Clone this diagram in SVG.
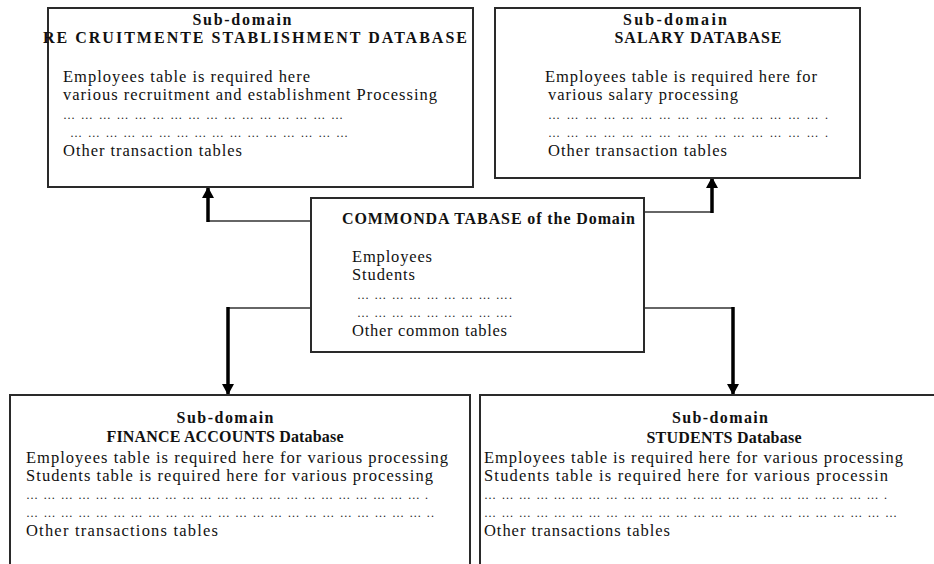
<svg xmlns="http://www.w3.org/2000/svg" width="934" height="564" viewBox="0 0 934 564">
<style>
text{font-family:"Liberation Serif","Times New Roman",serif;font-size:16.5px;fill:#111}
.b{font-weight:bold;font-size:16px}
.m{text-anchor:middle}
.d{font-size:12px;fill:#222}
.box{fill:#fff;stroke:#2a2a2a;stroke-width:2}
.h{fill:none;stroke:#333;stroke-width:1.5}
.v{fill:none;stroke:#000;stroke-width:3.5}
</style>
<defs>
<marker id="ah" markerUnits="userSpaceOnUse" markerWidth="12" markerHeight="12" refX="10" refY="6" orient="auto">
<path d="M0,0 L11,6 L0,12 z" fill="#000"/>
</marker>
</defs>
<rect width="934" height="564" fill="#fff"/>
<g id="connectors">
<path class="h" d="M311,221 H208"/>
<path class="v" d="M208,222 V188" marker-end="url(#ah)"/>
<path class="h" d="M644,212 H712"/>
<path class="v" d="M712,213 V178" marker-end="url(#ah)"/>
<path class="h" d="M311,308 H228"/>
<path class="v" d="M228,307 V394" marker-end="url(#ah)"/>
<path class="h" d="M644,308 H733"/>
<path class="v" d="M733,307 V394" marker-end="url(#ah)"/>
</g>
<g id="recruitment">
<rect class="box" x="48" y="8" width="425" height="179"/>
<text class="b m" x="242" y="25" textLength="99" lengthAdjust="spacing">Sub-domain</text>
<text class="b m" x="255" y="43" textLength="424" lengthAdjust="spacing">RE CRUITMENTE STABLISHMENT DATABASE</text>
<text x="63" y="82" textLength="247" lengthAdjust="spacing">Employees table is required here</text>
<text x="63" y="100" textLength="374" lengthAdjust="spacing">various recruitment and establishment Processing</text>
<text class="d" x="63" y="119" textLength="280" lengthAdjust="spacing">… … … … … … … … … … … … … … … …</text>
<text class="d" x="70" y="137" textLength="278" lengthAdjust="spacing">… … … … … … … … … … … … … … … …</text>
<text x="63" y="156" textLength="179" lengthAdjust="spacing">Other transaction tables</text>
</g>
<g id="salary">
<rect class="box" x="495" y="8" width="365" height="170"/>
<text class="b m" x="675" y="25" textLength="104" lengthAdjust="spacing">Sub-domain</text>
<text class="b m" x="698" y="43" textLength="167" lengthAdjust="spacing">SALARY DATABASE</text>
<text x="545" y="82" textLength="272" lengthAdjust="spacing">Employees table is required here for</text>
<text x="548" y="100" textLength="190" lengthAdjust="spacing">various salary processing</text>
<text class="d" x="548" y="119" textLength="280" lengthAdjust="spacing">… … … … … … … … … … … … … … … .</text>
<text class="d" x="548" y="137" textLength="280" lengthAdjust="spacing">… … … … … … … … … … … … … … … .</text>
<text x="548" y="156" textLength="179" lengthAdjust="spacing">Other transaction tables</text>
</g>
<g id="common">
<rect class="box" x="311" y="198" width="333" height="154"/>
<text class="b" x="342" y="224" textLength="293" lengthAdjust="spacing">COMMONDA TABASE of the Domain</text>
<text x="352" y="262" textLength="80" lengthAdjust="spacing">Employees</text>
<text x="352" y="280" textLength="63" lengthAdjust="spacing">Students</text>
<text class="d" x="357" y="299" textLength="155" lengthAdjust="spacing">… … … … … … … … ….</text>
<text class="d" x="357" y="317" textLength="155" lengthAdjust="spacing">… … … … … … … … ….</text>
<text x="352" y="336" textLength="155" lengthAdjust="spacing">Other common tables</text>
</g>
<g id="finance">
<rect class="box" x="10" y="395" width="460" height="200"/>
<text class="b m" x="225" y="423" textLength="97" lengthAdjust="spacing">Sub-domain</text>
<text class="b m" x="225" y="442" textLength="237" lengthAdjust="spacing">FINANCE ACCOUNTS Database</text>
<text x="26" y="463" textLength="422" lengthAdjust="spacing">Employees table is required here for various processing</text>
<text x="26" y="481" textLength="407" lengthAdjust="spacing">Students table is required here for various processing</text>
<text class="d" x="26" y="499" textLength="402" lengthAdjust="spacing">… … … … … … … … … … … … … … … … … … … … … … … .</text>
<text class="d" x="26" y="517" textLength="408" lengthAdjust="spacing">… … … … … … … … … … … … … … … … … … … … … … … ..</text>
<text x="26" y="536" textLength="192" lengthAdjust="spacing">Other transactions tables</text>
</g>
<g id="students">
<rect class="box" x="480" y="395" width="460" height="200"/>
<text class="b m" x="720" y="423" textLength="96" lengthAdjust="spacing">Sub-domain</text>
<text class="b m" x="724" y="443" textLength="155" lengthAdjust="spacing">STUDENTS Database</text>
<text x="484" y="463" textLength="419" lengthAdjust="spacing">Employees table is required here for various processing</text>
<text x="484" y="481" textLength="404" lengthAdjust="spacing">Students table is required here for various processin</text>
<text class="d" x="484" y="499" textLength="403" lengthAdjust="spacing">… … … … … … … … … … … … … … … … … … … … … … … .</text>
<text class="d" x="484" y="517" textLength="413" lengthAdjust="spacing">… … … … … … … … … … … … … … … … … … … … … … … …</text>
<text x="484" y="536" textLength="186" lengthAdjust="spacing">Other transactions tables</text>
</g>
</svg>
